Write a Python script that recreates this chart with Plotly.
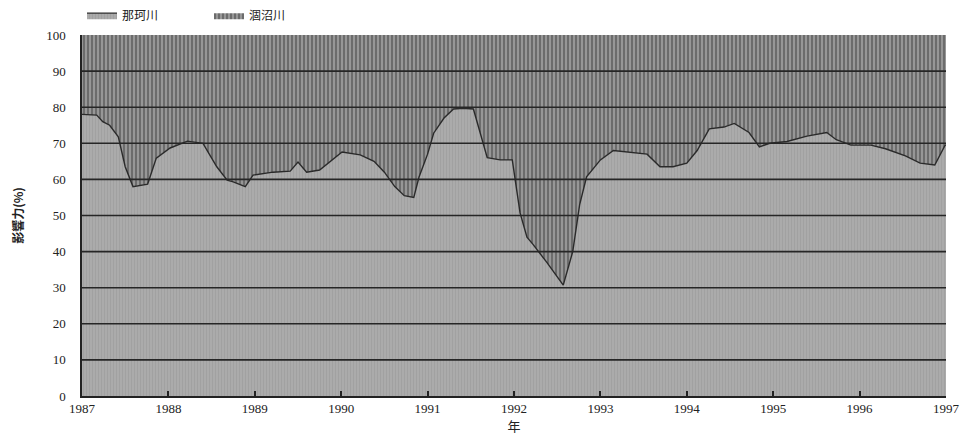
import plotly.graph_objects as go

years = [1987.00, 1987.17, 1987.24, 1987.32, 1987.42, 1987.50, 1987.59, 1987.76, 1987.86, 1988.02,
         1988.22, 1988.40, 1988.56, 1988.68, 1988.75, 1988.89, 1988.98, 1989.21, 1989.41, 1989.50,
         1989.60, 1989.75, 1990.01, 1990.22, 1990.38, 1990.50, 1990.62, 1990.73, 1990.84, 1990.90,
         1991.00, 1991.07, 1991.19, 1991.30, 1991.41, 1991.53, 1991.69, 1991.84, 1991.98, 1992.07,
         1992.15, 1992.22, 1992.38, 1992.57, 1992.68, 1992.76, 1992.84, 1993.00, 1993.15, 1993.34,
         1993.54, 1993.69, 1993.84, 1994.00, 1994.12, 1994.26, 1994.43, 1994.55, 1994.72, 1994.84,
         1994.96, 1995.16, 1995.39, 1995.62, 1995.73, 1995.90, 1996.13, 1996.30, 1996.53, 1996.70,
         1996.87, 1996.99, 1997.00]
naka = [78, 77.8, 76, 75, 71.8, 63.5, 58, 58.7, 65.9, 68.7,
        70.6, 70, 63.5, 59.8, 59.3, 58, 61.2, 62, 62.3, 64.8,
        62, 62.6, 67.6, 66.8, 65, 62, 58, 55.5, 55, 60.6,
        67, 72.8, 77, 79.5, 79.7, 79.5, 66, 65.4, 65.4, 50.7,
        44, 42, 37, 30.7, 40, 53, 60.7, 65.4, 68, 67.6,
        67, 63.5, 63.5, 64.5, 68, 74, 74.5, 75.5, 73, 69,
        70, 70.5, 72, 73, 71, 69.5, 69.5, 68.5, 66.5, 64.5,
        64, 69.5, 69.5]
hinuma = [round(100 - v, 1) for v in naka]

year_ticks = list(range(1987, 1998))
y_ticks = list(range(0, 101, 10))

serif = "Liberation Serif, DejaVu Serif, serif"
jp = "Noto Sans CJK JP, sans-serif"

fig = go.Figure()
fig.add_trace(go.Scatter(
    x=years, y=naka, name="那珂川", stackgroup="s", mode="lines",
    line=dict(color="#2a2a2a", width=1.4),
    fillcolor="#a6a6a6",
    fillpattern=dict(shape="|", fgcolor="#959595", bgcolor="#ababab", size=3, solidity=0.3),
))
fig.add_trace(go.Scatter(
    x=years, y=hinuma, name="涸沼川", stackgroup="s", mode="lines",
    line=dict(color="#2a2a2a", width=0),
    fillpattern=dict(shape="|", fgcolor="#1f1f1f", bgcolor="#b8b8b8", size=4, solidity=0.72),
))

for yv in y_ticks[1:-1]:
    fig.add_shape(type="line", xref="paper", x0=0, x1=1, y0=yv, y1=yv,
                  line=dict(color="#262626", width=1.6), layer="above")

fig.update_layout(
    width=961, height=448,
    margin=dict(l=82, r=15, t=35, b=52, autoexpand=False),
    paper_bgcolor="white", plot_bgcolor="white",
    showlegend=True,
    legend=dict(orientation="h", x=0.0, y=1.055, xanchor="left", yanchor="middle",
                font=dict(family=jp, size=12, color="#222"), itemwidth=30,
                traceorder="normal", bgcolor="rgba(0,0,0,0)", tracegroupgap=0,
                entrywidth=82),
    xaxis=dict(range=[1987, 1997], tickvals=year_ticks, ticktext=[str(y) for y in year_ticks],
               ticks="inside", ticklen=5, tickwidth=1.5, tickcolor="#222",
               showline=True, linecolor="#222", linewidth=1.5, showgrid=False, zeroline=False,
               tickfont=dict(family=serif, size=13, color="#222"),
               title=dict(text="年", font=dict(family=jp, size=13, color="#222"), standoff=4),
               layer="above traces"),
    yaxis=dict(range=[0, 100], tickvals=y_ticks, ticks="", showline=True, linecolor="#222",
               linewidth=1.5, showgrid=False, zeroline=False, ticklabelstandoff=12,
               tickfont=dict(family=serif, size=13, color="#222"),
               title=dict(text="<b>影響力(%)</b>", font=dict(family=jp, size=12, color="#222"), standoff=20),
               layer="above traces"),
)

fig.write_html("out.html", config={"displayModeBar": False},
               post_script="document.body.style.margin='0';document.body.style.overflow='hidden';")
